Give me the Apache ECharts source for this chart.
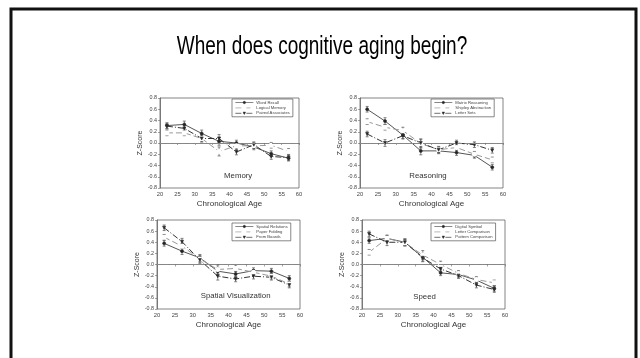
<!DOCTYPE html>
<html><head><meta charset="utf-8">
<script src="https://cdn.jsdelivr.net/npm/echarts@6/dist/echarts.min.js"></script>
<style>html,body{margin:0;padding:0;background:#fff}#c{width:640px;height:358px}</style>
</head><body><div id="c"></div>
<script>
const ages = [22, 27, 32, 37, 42, 47, 52, 57];
const xTicks = [20, 25, 30, 35, 40, 45, 50, 55, 60];
const yTicks = [-0.8, -0.6, -0.4, -0.2, 0.0, 0.2, 0.4, 0.6, 0.8];
const title = 'When does cognitive aging begin?';
const panelNames = ['Memory', 'Reasoning', 'Spatial Visualization', 'Speed'];

const memoryNames = ['Word Recall', 'Logical Memory', 'Paired Associates'];
const wordRecall = [0.31, 0.33, 0.17, 0.03, 0.00, -0.07, -0.19, -0.27];
const logicalMemory = [0.18, 0.18, 0.08, -0.15, -0.05, -0.05, -0.04, -0.15];
const pairedAssoc = [0.30, 0.26, 0.08, 0.08, -0.16, -0.03, -0.24, -0.26];

const reasoningNames = ['Matrix Reasoning', 'Shipley Abstraction', 'Letter Sets'];
const matrixReasoning = [0.60, 0.39, 0.14, -0.14, -0.14, -0.17, -0.22, -0.43];
const shipley = [0.38, 0.28, 0.22, -0.01, -0.12, -0.08, -0.20, -0.30];
const letterSets = [0.16, 0.00, 0.13, 0.00, -0.12, 0.00, -0.03, -0.13];

const spatialNames = ['Spatial Relations', 'Paper Folding', 'From Boards'];
const spatialRelations = [0.38, 0.24, 0.12, -0.12, -0.17, -0.11, -0.12, -0.25];
const paperFolding = [0.49, 0.33, 0.10, -0.09, -0.07, -0.14, -0.21, -0.35];
const formBoards = [0.66, 0.41, 0.08, -0.21, -0.26, -0.21, -0.23, -0.37];

const speedNames = ['Digital Symbol', 'Letter Comparison', 'Pattern Comparison'];
const digitSymbol = [0.43, 0.47, 0.40, 0.13, -0.15, -0.18, -0.28, -0.43];
const letterComparison = [0.22, 0.47, 0.39, 0.17, 0.00, -0.16, -0.27, -0.33];
const patternComparison = [0.55, 0.40, 0.40, 0.12, -0.08, -0.20, -0.37, -0.45];

const errMain = [0.05, 0.06, 0.06, 0.07, 0.05, 0.05, 0.05, 0.05];
const errAlt = [0.05, 0.05, 0.06, 0.08, 0.06, 0.05, 0.05, 0.05];

const panelSeries = [
  [memoryNames, [wordRecall, logicalMemory, pairedAssoc]],
  [reasoningNames, [matrixReasoning, shipley, letterSets]],
  [spatialNames, [spatialRelations, paperFolding, formBoards]],
  [speedNames, [digitSymbol, letterComparison, patternComparison]]
];

const grids = [
  {left: 160, top: 98, width: 139, height: 90},
  {left: 360, top: 98, width: 143, height: 90},
  {left: 157, top: 220, width: 143, height: 89},
  {left: 362, top: 220, width: 143, height: 89}
];
const legendPos = [
  {left: 232, top: 99},
  {left: 431, top: 99},
  {left: 232, top: 223},
  {left: 431, top: 223}
];
const labelPos = [[42.5, -0.58], [39, -0.58], [42, -0.56], [37.5, -0.58]];

const styles = [
  {line: {color: '#555', width: 1, type: 'solid'}, symbol: 'circle', fill: '#222'},
  {line: {color: '#999', width: 1, type: [6, 3]}, symbol: 'emptyCircle', fill: '#fff'},
  {line: {color: '#333', width: 1, type: [6, 2, 1, 2]}, symbol: 'triangle', fill: '#222'}
];
const font = 'Liberation Sans, Arial, sans-serif';

const xAxis = [], yAxis = [], series = [], legend = [];
grids.forEach((g, i) => {
  xAxis.push({gridIndex: i, type: 'value', min: 20, max: 60, interval: 5,
    name: 'Chronological Age', nameLocation: 'middle', nameGap: 12,
    nameTextStyle: {fontSize: 8, color: '#333', fontFamily: font},
    axisLine: {show: true, lineStyle: {color: '#666', width: 0.8}},
    axisTick: {show: true, length: 2, lineStyle: {color: '#666', width: 0.6}},
    axisLabel: {fontSize: 5.8, color: '#444', margin: 3, fontFamily: font,
      formatter: v => xTicks.includes(v) ? String(v) : ''},
    splitLine: {show: false}});
  yAxis.push({gridIndex: i, type: 'value', min: -0.8, max: 0.8, interval: 0.2,
    name: 'Z-Score', nameLocation: 'middle', nameGap: 16, nameRotate: 90,
    nameTextStyle: {fontSize: 7, color: '#333', fontFamily: font},
    axisLine: {show: true, lineStyle: {color: '#666', width: 0.8}},
    axisTick: {show: true, length: 2, lineStyle: {color: '#666', width: 0.6}},
    axisLabel: {fontSize: 5.4, color: '#444', margin: 3, fontFamily: font,
      formatter: v => { const t = yTicks.find(y => Math.abs(y - v) < 1e-6); return t === undefined ? '' : t.toFixed(1); }},
    splitLine: {show: false}});
  const [names, vals] = panelSeries[i];
  legend.push({data: names, orient: 'vertical', left: legendPos[i].left, top: legendPos[i].top,
    itemWidth: 18, itemHeight: 3, itemGap: 1.2, padding: [1.5, 3, 1.5, 3],
    borderColor: '#555', borderWidth: 0.7, backgroundColor: '#fff',
    lineStyle: {width: 0.7},
    itemStyle: {borderWidth: 0.5},
    textStyle: {fontSize: 4.2, color: '#444', fontFamily: font, padding: [0, 0, 0, -2]}});
  vals.forEach((v, k) => {
    const st = styles[k];
    const err = k === 1 ? errAlt : errMain;
    series.push({type: 'custom', xAxisIndex: i, yAxisIndex: i, silent: true, z: 1,
      data: ages.map((a, j) => [a, v[j], err[j]]),
      renderItem: (params, api) => {
        const x = api.value(0), y = api.value(1), e = api.value(2);
        const t = api.coord([x, y + e]), b = api.coord([x, y - e]);
        const s = {stroke: '#555', lineWidth: 0.7};
        return {type: 'group', children: [
          {type: 'line', shape: {x1: t[0], y1: t[1], x2: b[0], y2: b[1]}, style: s},
          {type: 'line', shape: {x1: t[0] - 1.5, y1: t[1], x2: t[0] + 1.5, y2: t[1]}, style: s},
          {type: 'line', shape: {x1: b[0] - 1.5, y1: b[1], x2: b[0] + 1.5, y2: b[1]}, style: s}
        ]};
      }});
    const s = {name: names[k], type: 'line', xAxisIndex: i, yAxisIndex: i, z: 3,
      data: ages.map((a, j) => [a, v[j]]),
      symbol: st.symbol, symbolSize: 3, symbolRotate: k === 2 ? 180 : 0,
      lineStyle: st.line,
      itemStyle: {color: st.fill, borderColor: '#333', borderWidth: 0.7}};
    if (k === 0) {
      s.markLine = {silent: true, symbol: 'none', label: {show: false},
        lineStyle: {color: '#888', type: [4, 3], width: 1},
        data: [{yAxis: 0}]};
      s.markPoint = {symbol: 'circle', symbolSize: 0,
        label: {show: true, formatter: panelNames[i], fontSize: 7.8, color: '#333', fontFamily: font},
        data: [{coord: labelPos[i]}]};
    }
    series.push(s);
  });
});

const chart = echarts.init(document.getElementById('c'), null, {renderer: 'canvas'});
chart.setOption({
  animation: false,
  backgroundColor: '#fff',
  grid: grids.map(g => Object.assign({show: true, borderColor: '#666', borderWidth: 0.8, containLabel: false}, g)),
  graphic: [
    {type: 'rect', shape: {x: 11, y: 9, width: 625, height: 360},
      style: {fill: 'none', stroke: '#111', lineWidth: 3}, silent: true},
    {type: 'text', x: 322, y: 47, scaleX: 0.76, silent: true,
      style: {text: title, x: 0, y: 0, align: 'center', verticalAlign: 'middle',
        fontSize: 25, fill: '#000', fontFamily: font}}
  ],
  legend, xAxis, yAxis, series
});
</script></body></html>
